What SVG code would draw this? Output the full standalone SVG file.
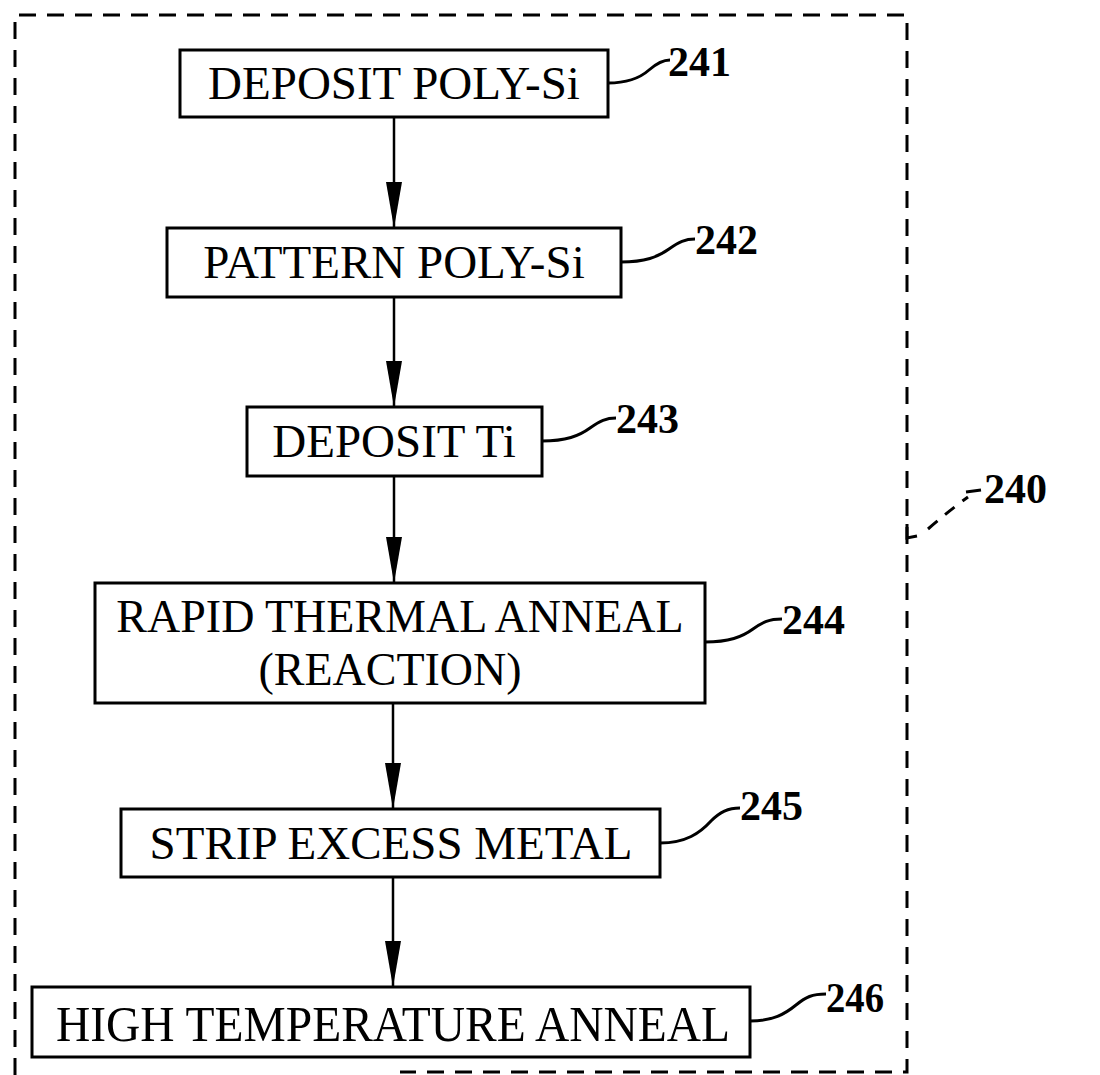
<svg xmlns="http://www.w3.org/2000/svg" width="1100" height="1075" viewBox="0 0 1100 1075">
<defs>
<style>
.box{fill:#fff;stroke:#000;stroke-width:3}
.t{font-family:"Liberation Serif","Times New Roman",serif;font-size:47px;fill:#000;text-anchor:middle}
.lbl{font-family:"Liberation Serif","Times New Roman",serif;font-size:42px;font-weight:bold;fill:#000}
.lead{fill:none;stroke:#000;stroke-width:3}
.edge{fill:none;stroke:#000;stroke-width:2.5}
.dash{fill:none;stroke:#000;stroke-width:3;stroke-dasharray:17 11}
</style>
<marker id="ah" viewBox="0 0 46 16" refX="46" refY="8" markerWidth="46" markerHeight="16" markerUnits="userSpaceOnUse" orient="auto">
<path d="M0,0 L46,8 L0,16 Z" fill="#000"/>
</marker>
</defs>
<rect width="1100" height="1075" fill="#fff"/>
<g id="frame-240">
<path class="dash" d="M15,1075 L15,15 L907,15 L907,1072 L400,1072"/>
<path class="lead" d="M907,524 L907,538 L917,536"/>
<path class="lead" d="M928,529 Q950,510 968,497" style="stroke-dasharray:12 10"/>
<path class="lead" d="M966,492 L981,490"/>
<text class="lbl" x="984" y="503">240</text>
</g>
<g id="connectors">
<line class="edge" x1="394" y1="117" x2="394" y2="228" marker-end="url(#ah)"/>
<line class="edge" x1="394" y1="297" x2="394" y2="407" marker-end="url(#ah)"/>
<line class="edge" x1="394" y1="476" x2="394" y2="583" marker-end="url(#ah)"/>
<line class="edge" x1="393" y1="703" x2="393" y2="809" marker-end="url(#ah)"/>
<line class="edge" x1="393" y1="877" x2="393" y2="987" marker-end="url(#ah)"/>
</g>
<g id="node-241">
<rect class="box" x="180" y="50" width="428" height="67"/>
<text class="t" x="394" y="99">DEPOSIT POLY-Si</text>
<path class="lead" d="M608,83 C628,83 640,78 649,70 C657,63 663,60 670,60"/>
<text class="lbl" x="668" y="76">241</text>
</g>
<g id="node-242">
<rect class="box" x="167" y="228" width="454" height="69"/>
<text class="t" x="394" y="278">PATTERN POLY-Si</text>
<path class="lead" d="M621,262 C645,262 658,257 669,249 C679,242 685,239 695,239"/>
<text class="lbl" x="695" y="254">242</text>
</g>
<g id="node-243">
<rect class="box" x="247" y="407" width="295" height="69"/>
<text class="t" x="394" y="457">DEPOSIT Ti</text>
<path class="lead" d="M542,441 C566,441 579,436 590,428 C600,421 606,418 616,418"/>
<text class="lbl" x="616" y="433">243</text>
</g>
<g id="node-244">
<rect class="box" x="95" y="583" width="610" height="120"/>
<text class="t" x="400" y="632" style="font-size:46px">RAPID THERMAL ANNEAL</text>
<text class="t" x="390" y="685" style="font-size:46px">(REACTION)</text>
<path class="lead" d="M705,642 C729,642 742,637 753,629 C763,622 769,619 782,619"/>
<text class="lbl" x="782" y="634">244</text>
</g>
<g id="node-245">
<rect class="box" x="121" y="809" width="539" height="68"/>
<text class="t" x="391" y="859">STRIP EXCESS METAL</text>
<path class="lead" d="M660,843 C686,843 700,833 711,821 C720,812 728,808 740,808"/>
<text class="lbl" x="740" y="820">245</text>
</g>
<g id="node-246">
<rect class="box" x="32" y="987" width="718" height="70"/>
<text class="t" x="393" y="1041" style="font-size:50px" textLength="674" lengthAdjust="spacingAndGlyphs">HIGH TEMPERATURE ANNEAL</text>
<path class="lead" d="M750,1021 C773,1021 785,1014 796,1005 C806,997 812,994 826,994"/>
<text class="lbl" x="826" y="1012" textLength="58" lengthAdjust="spacingAndGlyphs">246</text>
</g>
</svg>
